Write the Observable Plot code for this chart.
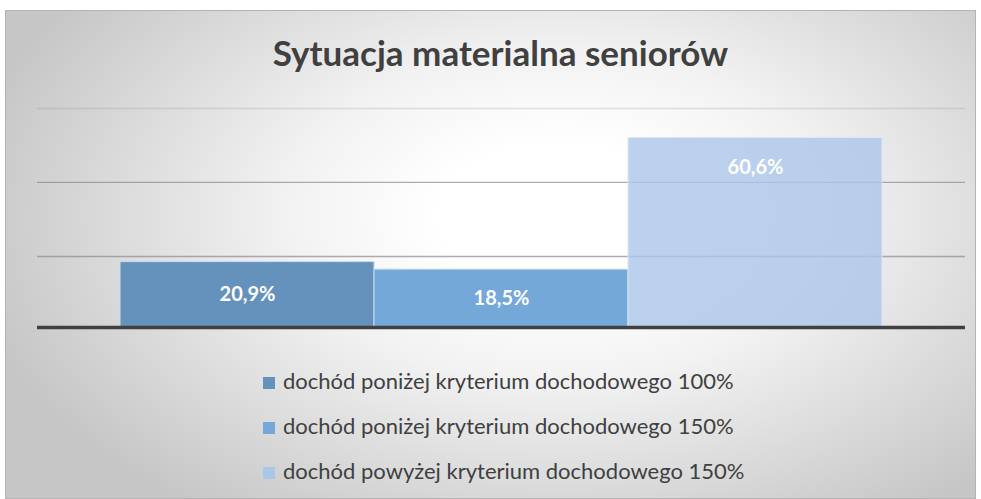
<!DOCTYPE html>
<html>
<head>
<meta charset="utf-8">
<script src="https://cdn.jsdelivr.net/npm/d3@7"></script>
<script src="https://cdn.jsdelivr.net/npm/@observablehq/plot@0.6"></script>
<style>
  html, body { margin: 0; padding: 0; background: #fff; }
  #page { position: relative; width: 981px; height: 499px; overflow: hidden; font-family: Lato, "Open Sans", sans-serif; }
  #frame { position: absolute; left: 5px; top: 10px; width: 969px; height: 487px; border: 1px solid #b4b4b4;
    background: radial-gradient(ellipse 62% 75% at 57% 42%, #ffffff 20%, #f2f2f2 45%, #c6c6c6 100%); }
  #title { position: absolute; left: 10px; width: 981px; top: 35px; line-height: 1; text-align: center; font-size: 35px; font-weight: 700; color: #404040; }
  #chart { position: absolute; left: 0; top: 0; }
  #legend { position: absolute; left: 263px; top: 358px; }
  .li { display: flex; align-items: center; height: 45px; font-size: 22px; color: #404040; }
  .sw { width: 12px; height: 12px; margin-right: 8px; position: relative; top: 2px; }
</style>
</head>
<body>
<div id="page">
  <div id="frame"></div>
  <div id="title">Sytuacja materialna seniorów</div>
  <div id="chart"></div>
  <div id="legend"></div>
</div>
<script>
const categories = [
  "dochód poniżej kryterium dochodowego 100%",
  "dochód poniżej kryterium dochodowego 150%",
  "dochód powyżej kryterium dochodowego 150%"
];
const values = [20.9, 18.5, 60.6];
const labels = ["20,9%", "18,5%", "60,6%"];
const colors = ["#6592bd", "#74a8d9", "#aac6e8"];
const gridValues = [22.7, 46.4, 70];

const data = categories.map((c, i) => ({category: c, value: values[i], label: labels[i], color: colors[i]}));
const solid = data.slice(0, 2);
const light = data.slice(2);

const chart = Plot.plot({
  width: 981,
  height: 340,
  marginLeft: 37,
  marginRight: 16,
  marginTop: 108,
  marginBottom: 13,
  style: {background: "transparent", fontFamily: "Lato, sans-serif"},
  x: {domain: categories, paddingInner: 0, paddingOuter: 0.32, axis: null},
  y: {domain: [0, 70], axis: null},
  marks: [
    Plot.ruleY(gridValues, {stroke: "#8a8a8a", strokeOpacity: d => d > 60 ? 0.22 : 0.7, strokeWidth: 1.3}),
    Plot.barY(solid, {x: "category", y: "value", fill: "color", stroke: "#c9dcee", strokeWidth: 1}),
    Plot.barY(light, {x: "category", y: "value", fill: "color", fillOpacity: 0.8, stroke: "#dde8f5", strokeWidth: 1}),
    Plot.ruleY([0], {stroke: "#404040", strokeWidth: 3.5}),
    Plot.text(data, {x: "category", y: d => d.value > 40 ? d.value - 9.4 : d.value / 2, text: "label",
      fill: "white", fontSize: 20, fontWeight: 700})
  ]
});
document.getElementById("chart").appendChild(chart);

const legend = document.getElementById("legend");
data.forEach(d => {
  const row = document.createElement("div");
  row.className = "li";
  const sw = document.createElement("span");
  sw.className = "sw";
  sw.style.background = d.color;
  const tx = document.createElement("span");
  tx.textContent = d.category;
  row.appendChild(sw);
  row.appendChild(tx);
  legend.appendChild(row);
});
</script>
</body>
</html>
